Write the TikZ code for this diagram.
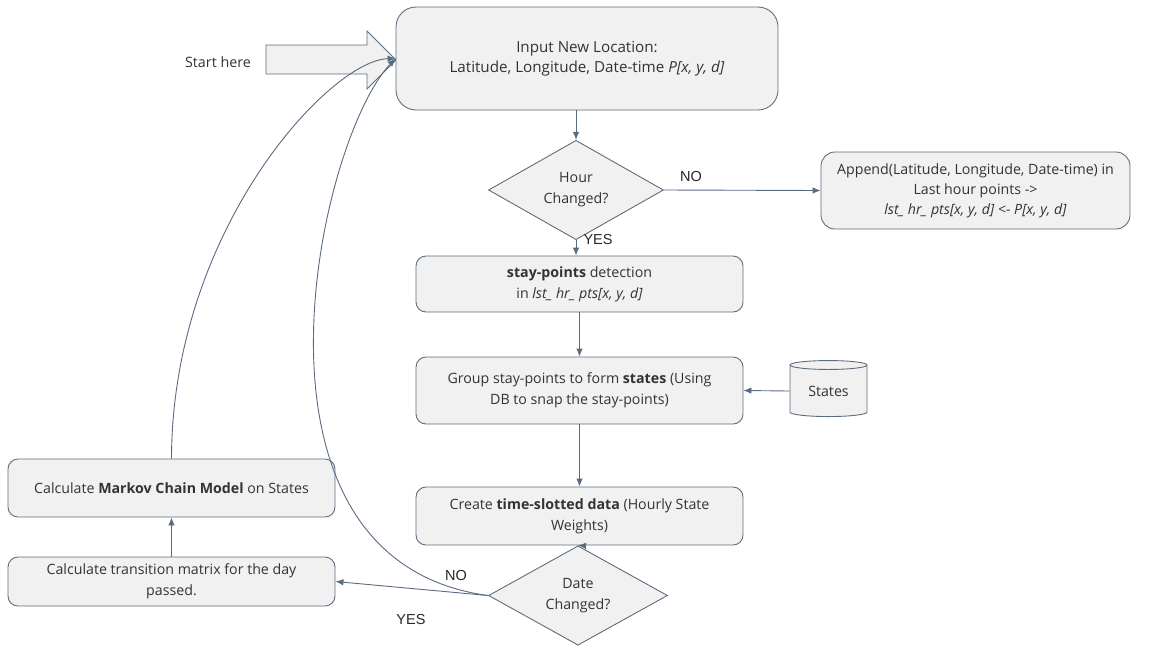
\documentclass[tikz,border=0pt]{standalone}
\usepackage{fontspec}
\setmainfont{Open Sans}
\newfontfamily\lblfont{Liberation Sans}
\usetikzlibrary{shapes.geometric,arrows.meta}
\definecolor{bord}{HTML}{5D6D7E}
\definecolor{boxfill}{HTML}{F1F1F1}
\definecolor{txt}{HTML}{333333}
\definecolor{lnk}{HTML}{5A6A80}
\tikzset{
  box/.style={draw=bord, fill=boxfill, rounded corners=10pt, line width=0.9pt, align=center,
    text=txt, font=\fontsize{14.2}{21}\selectfont, inner sep=0pt},
  dec/.style={diamond, draw=bord, fill=boxfill, line width=0.9pt, align=center,
    text=txt, font=\fontsize{14.2}{21}\selectfont, inner sep=0pt},
  link/.style={draw=lnk, line width=0.9pt, -{Latex[length=8pt,width=6.5pt]}},
  lbl/.style={font=\lblfont\fontsize{14.5}{16}\selectfont, text=black!85}
}
\begin{document}
\begin{tikzpicture}[x=1pt,y=-1pt]
\useasboundingbox (0,0) rectangle (1158,646);
% start arrow shape
\draw[draw=bord, fill=boxfill, line width=0.9pt] (266,45) -- (367,45) -- (367,31) -- (396,60) -- (367,89) -- (367,74) -- (266,74) -- cycle;
\node[font=\fontsize{14.3}{18}\selectfont, text=txt] (start) at (218,62) {Start here};
% nodes
\node[box, rounded corners=20pt, minimum width=382pt, minimum height=103pt, font=\fontsize{15.2}{20}\selectfont] (top) at (587,58.5)
  {Input New Location:\\Latitude, Longitude, Date-time \textit{P[x, y, d]}};
\node[dec, minimum width=175pt, minimum height=84pt] (hour) at (576,190) {Hour\\Changed?};
\node[box, rounded corners=14pt, minimum width=309pt, minimum height=77pt, font=\fontsize{14.2}{20}\selectfont] (append) at (975.5,190.5)
  {Append(Latitude, Longitude, Date-time) in\\Last hour points -\textgreater\\\textit{lst\_ hr\_ pts[x, y, d] \textless- P[x, y, d]}};
\node[box, minimum width=327pt, minimum height=56pt] (stay) at (579.5,284)
  {\textbf{stay-points} detection\\in \textit{lst\_ hr\_ pts[x, y, d]}};
\node[box, minimum width=327pt, minimum height=67pt] (group) at (579.5,390.5)
  {Group stay-points to form \textbf{states} (Using\\DB to snap the stay-points)};
\node[cylinder, shape border rotate=90, aspect=0.22, draw=bord, fill=boxfill, line width=0.9pt,
  text=txt, font=\fontsize{14.2}{21}\selectfont, inner sep=0pt, minimum width=77pt, minimum height=56pt] (db) at (828.5,391) {States};
\node[box, minimum width=327pt, minimum height=58pt] (create) at (579.5,516)
  {Create \textbf{time-slotted data} (Hourly State\\Weights)};
\node[dec, minimum width=179pt, minimum height=85pt] (date) at (578,595.5) {Date\\Changed?};
\node[box, minimum width=327pt, minimum height=58pt] (markov) at (171.5,488)
  {Calculate \textbf{Markov Chain Model} on States};
\node[box, minimum width=327pt, minimum height=49pt] (trans) at (171.5,581.5)
  {Calculate transition matrix for the day\\passed.};
% connectors
\draw[link] (top.south -| hour.north) -- (hour.north);
\draw[link] (hour.east) -- (append.west);
\draw[link] (hour.south) -- (stay.north -| hour.south);
\draw[link] (stay.south) -- (group.north);
\draw[link] (db.west) -- (group.east);
\draw[link] (group.south) -- (create.north);
\draw[link] (create.south) -- (date.north);
\draw[link] (date.west) -- (trans.east);
\draw[link] (trans.north) -- (markov.south);
\draw[link] (markov.north) .. controls (172,230) and (330,60) .. (top.west);
\draw[link] (date.west) .. controls (225,560) and (318,140) .. (top.west);
% labels
\node[lbl] (lno1) at (691,177) {NO};
\node[lbl] (lyes1) at (598,240) {YES};
\node[lbl] (lno2) at (456,575) {NO};
\node[lbl] (lyes2) at (411,619) {YES};
\end{tikzpicture}
\end{document}
